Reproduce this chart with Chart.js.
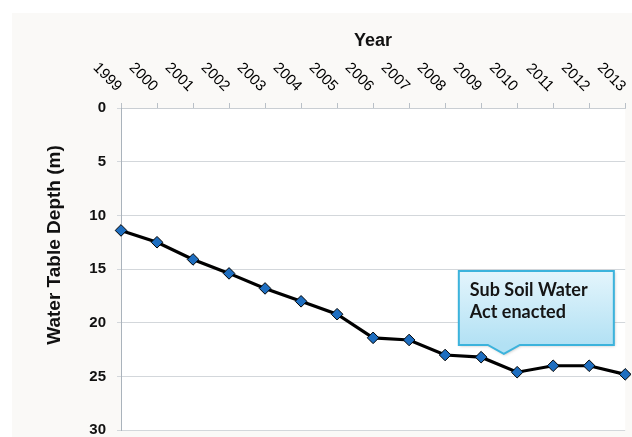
<!DOCTYPE html>
<html>
<head>
<meta charset="utf-8">
<script src="https://cdn.jsdelivr.net/npm/chart.js@4/dist/chart.umd.min.js"></script>
<style>
  html, body { margin: 0; padding: 0; background: #ffffff; overflow: hidden; }
  #wrap { width: 632px; height: 437px; position: relative; }
</style>
</head>
<body>
<div id="wrap"><canvas id="c" width="632" height="437"></canvas></div>
<script>
// ---- data ----
const years = ['1999','2000','2001','2002','2003','2004','2005','2006','2007','2008','2009','2010','2011','2012','2013'];
const depthValues = [11.4, 12.5, 14.1, 15.4, 16.8, 18.0, 19.2, 21.4, 21.6, 23.0, 23.2, 24.6, 24.0, 24.0, 24.8];
const depthTicks = [0, 5, 10, 15, 20, 25, 30];
const xTitle = 'Year';
const yTitle = 'Water Table Depth (m)';
const calloutLines = ['Sub Soil Water', 'Act enacted'];

const backgroundPlugin = {
  id: 'bg',
  beforeDraw(chart) {
    const {ctx, chartArea: a} = chart;
    ctx.save();
    ctx.fillStyle = '#ffffff';
    ctx.fillRect(0, 0, chart.width, chart.height);
    ctx.fillStyle = '#faf9f7';
    ctx.fillRect(12, 13, chart.width - 12, chart.height - 13);
    ctx.fillStyle = '#ffffff';
    ctx.fillRect(a.left, a.top, a.right - a.left, a.bottom - a.top);
    ctx.restore();
  }
};

const labelsPlugin = {
  id: 'customLabels',
  afterDraw(chart) {
    const {ctx, chartArea: a} = chart;
    const xs = chart.scales.x;
    ctx.save();
    // rotated year labels above the top axis
    ctx.font = '15px "Liberation Sans", Arial, sans-serif';
    ctx.fillStyle = '#000000';
    ctx.textAlign = 'right';
    ctx.textBaseline = 'middle';
    years.forEach((y, i) => {
      const px = xs.getPixelForTick(i);
      ctx.save();
      ctx.translate(px - 2, a.top - 19);
      ctx.rotate(Math.PI / 4);
      ctx.fillText(y, 0, 0);
      ctx.restore();
    });
    // y axis title
    ctx.save();
    ctx.font = 'bold 19px "Liberation Sans", Arial, sans-serif';
    ctx.fillStyle = '#111111';
    ctx.textAlign = 'center';
    ctx.textBaseline = 'middle';
    ctx.translate(55, 245);
    ctx.rotate(-Math.PI / 2);
    ctx.fillText(yTitle, 0, 0);
    ctx.restore();
    ctx.restore();
  }
};

const calloutPlugin = {
  id: 'callout',
  afterDatasetsDraw(chart) {
    const {ctx} = chart;
    const xs = chart.scales.x, ys = chart.scales.y;
    const x9 = xs.getPixelForTick(10), x10 = xs.getPixelForTick(11);
    const tipX = x9 + (x10 - x9) * 0.63;
    const tipY = ys.getPixelForValue(22.9);
    const L = tipX - 45, R = tipX + 110, T = tipY - 83, B = tipY - 9;
    ctx.save();
    const path = () => {
      ctx.beginPath();
      ctx.moveTo(L, T);
      ctx.lineTo(R, T);
      ctx.lineTo(R, B);
      ctx.lineTo(tipX + 16, B);
      ctx.lineTo(tipX, tipY);
      ctx.lineTo(tipX - 16, B);
      ctx.lineTo(L, B);
      ctx.closePath();
    };
    ctx.shadowColor = 'rgba(0,0,0,0.25)';
    ctx.shadowBlur = 3;
    ctx.shadowOffsetX = 1;
    ctx.shadowOffsetY = 1;
    const g = ctx.createLinearGradient(0, T, 0, B);
    g.addColorStop(0, '#e4f5fc');
    g.addColorStop(1, '#b2e1f4');
    path();
    ctx.fillStyle = g;
    ctx.fill();
    ctx.shadowColor = 'transparent';
    ctx.lineWidth = 2;
    ctx.strokeStyle = '#3cb3dc';
    path();
    ctx.stroke();
    ctx.font = 'bold 18px Lato, "Open Sans", sans-serif';
    ctx.fillStyle = '#151515';
    ctx.textAlign = 'left';
    ctx.textBaseline = 'alphabetic';
    ctx.fillText(calloutLines[0], L + 11, T + 25);
    ctx.fillText(calloutLines[1], L + 11, T + 47);
    ctx.restore();
  }
};

new Chart(document.getElementById('c'), {
  type: 'line',
  data: {
    labels: years,
    datasets: [{
      data: depthValues,
      borderColor: '#000000',
      borderWidth: 3.2,
      pointStyle: 'rectRot',
      pointRadius: 5.8,
      pointBackgroundColor: '#1e6ec0',
      pointBorderColor: '#000000',
      pointBorderWidth: 1,
      tension: 0,
      clip: false
    }]
  },
  options: {
    responsive: false,
    animation: false,
    devicePixelRatio: 1,
    layout: { padding: { top: 20, left: 12, right: 4, bottom: 0 } },
    plugins: { legend: { display: false }, tooltip: { enabled: false } },
    scales: {
      x: {
        type: 'category',
        position: 'top',
        offset: false,
        ticks: { display: false },
        grid: { display: true, drawOnChartArea: false, drawTicks: true, tickLength: 5, color: '#b9c0c7' },
        border: { display: true, color: '#c9ced3', width: 1 },
        title: {
          display: true, text: xTitle, color: '#111111',
          font: { family: '"Liberation Sans", Arial, sans-serif', size: 18, weight: 'bold', lineHeight: 1.2 },
          padding: { top: 10.2, bottom: 51.2 }
        }
      },
      y: {
        reverse: true,
        min: 0,
        max: 30,
        afterBuildTicks(scale) { scale.ticks = depthTicks.map(v => ({ value: v })); },
        afterFit(scale) { scale.width = 109; scale.paddingBottom = 5; scale.paddingTop = 0; },
        ticks: {
          padding: 11,
          color: '#111111',
          font: { family: '"Liberation Sans", Arial, sans-serif', size: 15, weight: 'bold' }
        },
        grid: { color: '#d3d7db', lineWidth: 1, tickLength: 4 },
        border: { display: true, color: '#aab3bc', width: 1 }
      }
    }
  },
  plugins: [backgroundPlugin, labelsPlugin, calloutPlugin]
});
</script>
</body>
</html>
